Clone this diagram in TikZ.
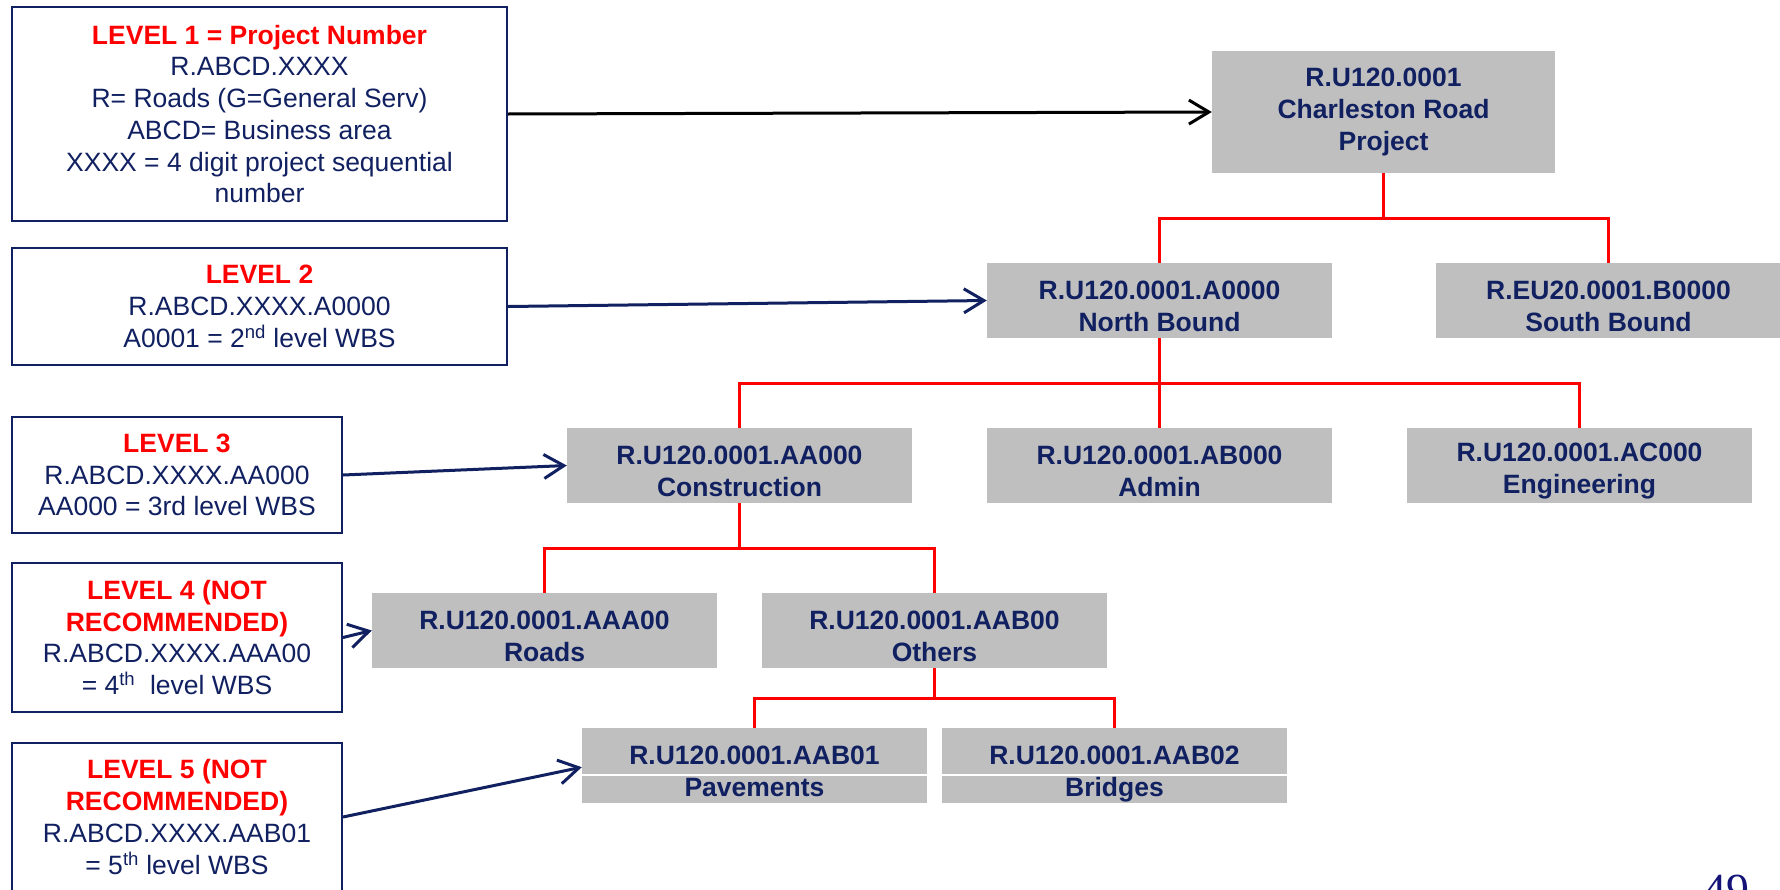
\documentclass[tikz,border=0pt]{standalone}
\usepackage{fontspec}
\setmainfont{Liberation Sans}
\newfontfamily\pgnumfont{Liberation Serif}
\usepackage{xcolor}
\usetikzlibrary{arrows.meta}

\definecolor{wbsnavy}{RGB}{16,32,96}
\definecolor{wbsgray}{RGB}{191,191,191}
\definecolor{lvlred}{RGB}{255,0,0}
\definecolor{pgblue}{RGB}{20,20,120}

\newcommand{\lvltitle}[1]{{\color{lvlred}\bfseries #1}}
\newcommand{\wbslift}{\rule{0pt}{30pt}}

\tikzset{
  wbsbox/.style={fill=wbsgray, text=wbsnavy, align=center, inner sep=0pt,
    font=\fontsize{26.5}{31.7}\selectfont\bfseries,
    minimum width=345pt, minimum height=75pt},
  wbscode/.style={wbsbox, minimum height=46pt, text height=27pt, text depth=0pt},
  wbsname/.style={wbsbox, minimum height=27pt, text height=19pt, text depth=5pt},
  levelbox/.style={draw=wbsnavy, line width=2pt, fill=white, text=wbsnavy,
    align=center, inner sep=0pt, font=\fontsize{26.5}{31.7}\selectfont},
  tree/.style={draw=lvlred, line width=3pt},
  lvlarrow/.style={draw=wbsnavy, line width=3pt,
    -{Straight Barb[length=20pt,width=24pt]}}
}

\begin{document}
\begin{tikzpicture}[x=1pt, y=-1pt]
  \clip (0,0) rectangle (1780,889);

  % WBS boxes
  \node[wbsbox, minimum width=343pt, minimum height=122pt] (root) at (1383.5,112)
    {R.U120.0001\\Charleston Road\\Project};
  \node[wbsbox] (north) at (1159.5,300.5) {\wbslift R.U120.0001.A0000\\North Bound};
  \node[wbsbox] (south) at (1608.5,300.5) {\wbslift R.EU20.0001.B0000\\South Bound};
  \node[wbsbox] (cons)  at (739.5,465.5)  {\wbslift R.U120.0001.AA000\\Construction};
  \node[wbsbox] (admin) at (1159.5,465.5) {\wbslift R.U120.0001.AB000\\Admin};
  \node[wbsbox] (engg)  at (1579.5,465.5) {\wbslift R.U120.0001.AC000\\Engineering};
  \node[wbsbox] (roads) at (544.5,630.5)  {\wbslift R.U120.0001.AAA00\\Roads};
  \node[wbsbox] (others) at (934.5,630.5) {\wbslift R.U120.0001.AAB00\\Others};
  \node[wbscode] (pav)  at (754.5,751)    {R.U120.0001.AAB01};
  \node[wbsname] (pavname) at (754.5,789.5) {Pavements};
  \node[wbscode] (brid) at (1114.5,751)   {R.U120.0001.AAB02};
  \node[wbsname] (bridname) at (1114.5,789.5) {Bridges};

  % red tree lines
  \draw[tree] (root.south) -- ++(0,45) -| (north.north);
  \draw[tree] (root.south) -- ++(0,45) -| (south.north);
  \draw[tree] (north.south) -- ++(0,45) -| (cons.north);
  \draw[tree] (north.south) -- (admin.north);
  \draw[tree] (north.south) -- ++(0,45) -| (engg.north);
  \draw[tree] (cons.south) -- ++(0,45) -| (roads.north);
  \draw[tree] (cons.south) -- ++(0,45) -| (others.north);
  \draw[tree] (others.south) -- ++(0,30) -| (pav.north);
  \draw[tree] (others.south) -- ++(0,30) -| (brid.north);

  % level legend boxes
  \node[levelbox, minimum width=495pt, minimum height=214pt] (lvl1) at (259.5,114)
    {\lvltitle{LEVEL 1 = Project Number}\\R.ABCD.XXXX\\R= Roads (G=General Serv)\\
     ABCD= Business area\\XXXX = 4 digit project sequential\\number};
  \node[levelbox, minimum width=495pt, minimum height=117pt] (lvl2) at (259.5,306.5)
    {\lvltitle{LEVEL 2}\\R.ABCD.XXXX.A0000\\A0001 = 2\textsuperscript{nd} level WBS};
  \node[levelbox, minimum width=330pt, minimum height=116pt] (lvl3) at (177,475)
    {\lvltitle{LEVEL 3}\\R.ABCD.XXXX.AA000\\AA000 = 3rd level WBS};
  \node[levelbox, minimum width=330pt, minimum height=149pt] (lvl4) at (177,637.5)
    {\lvltitle{LEVEL 4 (NOT}\\\lvltitle{RECOMMENDED)}\\R.ABCD.XXXX.AAA00\\
     = 4\textsuperscript{th}\ \ level WBS};
  \node[levelbox, minimum width=330pt, minimum height=148pt] (lvl5) at (177,817)
    {\lvltitle{LEVEL 5 (NOT}\\\lvltitle{RECOMMENDED)}\\R.ABCD.XXXX.AAB01\\
     = 5\textsuperscript{th} level WBS};

  % arrows from legend to boxes
  \draw[lvlarrow, draw=black] (lvl1.east) -- (root.west);
  \draw[lvlarrow] (lvl2.east) -- (north.west);
  \draw[lvlarrow] (lvl3.east) -- (cons.west);
  \draw[lvlarrow] (lvl4.east) -- (roads.west);
  \draw[lvlarrow] (lvl5.east) -- ([yshift=7pt]pav.south west);

  % page number
  \node[anchor=base west, inner sep=0pt, text=pgblue,
    font=\pgnumfont\fontsize{46}{46}\selectfont] (pgno) at (1703,905) {49};
\end{tikzpicture}
\end{document}
